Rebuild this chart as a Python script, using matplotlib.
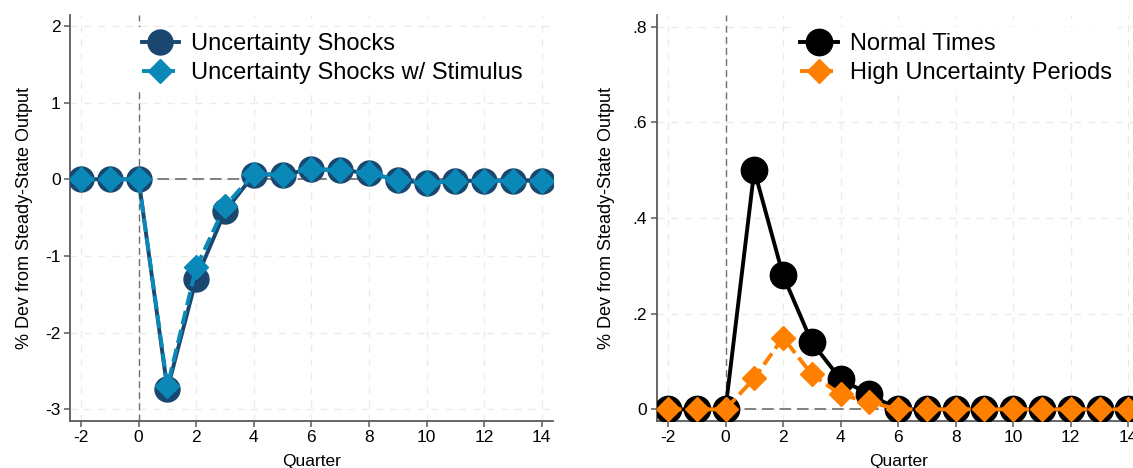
import numpy as np
import matplotlib
matplotlib.use('Agg')
import matplotlib.pyplot as plt

plt.rcParams['font.family'] = ['Liberation Sans', 'DejaVu Sans']

# Dados
quarters = list(range(-2, 15))
unc_shocks = [0, 0, 0, -2.74, -1.30, -0.42, 0.06, 0.06, 0.13, 0.12, 0.08,
              -0.01, -0.05, -0.02, -0.02, -0.02, -0.02]
unc_stimulus = [0, 0, 0, -2.70, -1.15, -0.35, 0.07, 0.06, 0.13, 0.12, 0.08,
                -0.01, -0.05, -0.02, -0.02, -0.02, -0.02]
normal_times = [0, 0, 0, 0.50, 0.28, 0.14, 0.063, 0.031, 0, 0, 0,
                0, 0, 0, 0, 0, 0]
high_unc = [0, 0, 0, 0.065, 0.15, 0.073, 0.031, 0.015, 0, 0, 0,
            0, 0, 0, 0, 0, 0]

left_labels = ['Uncertainty Shocks', 'Uncertainty Shocks w/ Stimulus']
right_labels = ['Normal Times', 'High Uncertainty Periods']
xticks = list(range(-2, 15, 2))
left_yticks = [-3, -2, -1, 0, 1, 2]
left_yticklabels = ['-3', '-2', '-1', '0', '1', '2']
right_yticks = [0, 0.2, 0.4, 0.6, 0.8]
right_yticklabels = ['0', '.2', '.4', '.6', '.8']

navy = '#1a476f'
lightblue = '#0a88b8'
orange = '#ff8000'

fig = plt.figure(figsize=(11.33, 4.68), dpi=100)
ax1 = fig.add_axes([0.0622, 0.1011, 0.4259, 0.867])
ax2 = fig.add_axes([0.5799, 0.1011, 0.4259, 0.867])


def estilo(ax):
    for s in ['top', 'right']:
        ax.spines[s].set_visible(False)
    for s in ['left', 'bottom']:
        ax.spines[s].set_color('#5a5a5a')
        ax.spines[s].set_linewidth(1.3)
    ax.tick_params(direction='out', length=4, width=1.1, color='#5a5a5a',
                   labelsize=12.5, pad=3)
    ax.grid(True, color='#ebebeb', linestyle=(0, (5, 5)), linewidth=1.0, zorder=0)
    ax.set_axisbelow(True)
    ax.set_xticks(xticks)
    ax.set_xticklabels([str(t) for t in xticks])
    ax.set_xlabel('Quarter', fontsize=12.5, labelpad=6)
    ax.axvline(0, color='#707070', linestyle=(0, (5, 3)), linewidth=1.0, zorder=1)
    ax.axhline(0, color='#808080', linestyle=(0, (6, 3)), linewidth=1.4, zorder=1)


def legenda(ax, x0):
    leg = ax.legend(loc='upper left', bbox_to_anchor=(x0, 0.97), fontsize=17,
                    frameon=True, facecolor='white', edgecolor='none', framealpha=1,
                    handlelength=1.6, handletextpad=0.5, labelspacing=0.3,
                    borderpad=0.25, borderaxespad=0, fancybox=False)
    leg.set_zorder(5)


# Painel esquerdo
estilo(ax1)
ax1.plot(quarters, unc_shocks, color=navy, linewidth=2.8, marker='o',
         markersize=18, zorder=3, label=left_labels[0])
ax1.plot(quarters, unc_stimulus, color=lightblue, linewidth=2.8,
         linestyle=(0, (3.5, 1.5)), marker='D', markersize=12.5, zorder=4,
         label=left_labels[1])
ax1.set_xlim(-2.365, 14.39)
ax1.set_ylim(-3.149, 2.143)
ax1.set_yticks(left_yticks)
ax1.set_yticklabels(left_yticklabels)
ax1.set_ylabel('% Dev from Steady-State Output', fontsize=13)
ax1.yaxis.set_label_coords(-0.078, 0.5)
legenda(ax1, 0.135)

# Painel direito
estilo(ax2)
ax2.plot(quarters, normal_times, color='black', linewidth=2.8, marker='o',
         markersize=19, zorder=3, label=right_labels[0])
ax2.plot(quarters, high_unc, color=orange, linewidth=2.8,
         linestyle=(0, (3.5, 1.5)), marker='D', markersize=12.5, zorder=4,
         label=right_labels[1])
ax2.set_xlim(-2.38, 14.39)
ax2.set_ylim(-0.0238, 0.825)
ax2.set_yticks(right_yticks)
ax2.set_yticklabels(right_yticklabels)
ax2.set_ylabel('% Dev from Steady-State Output', fontsize=13)
ax2.yaxis.set_label_coords(-0.087, 0.5)
legenda(ax2, 0.285)

plt.savefig('out.png', dpi=100)
